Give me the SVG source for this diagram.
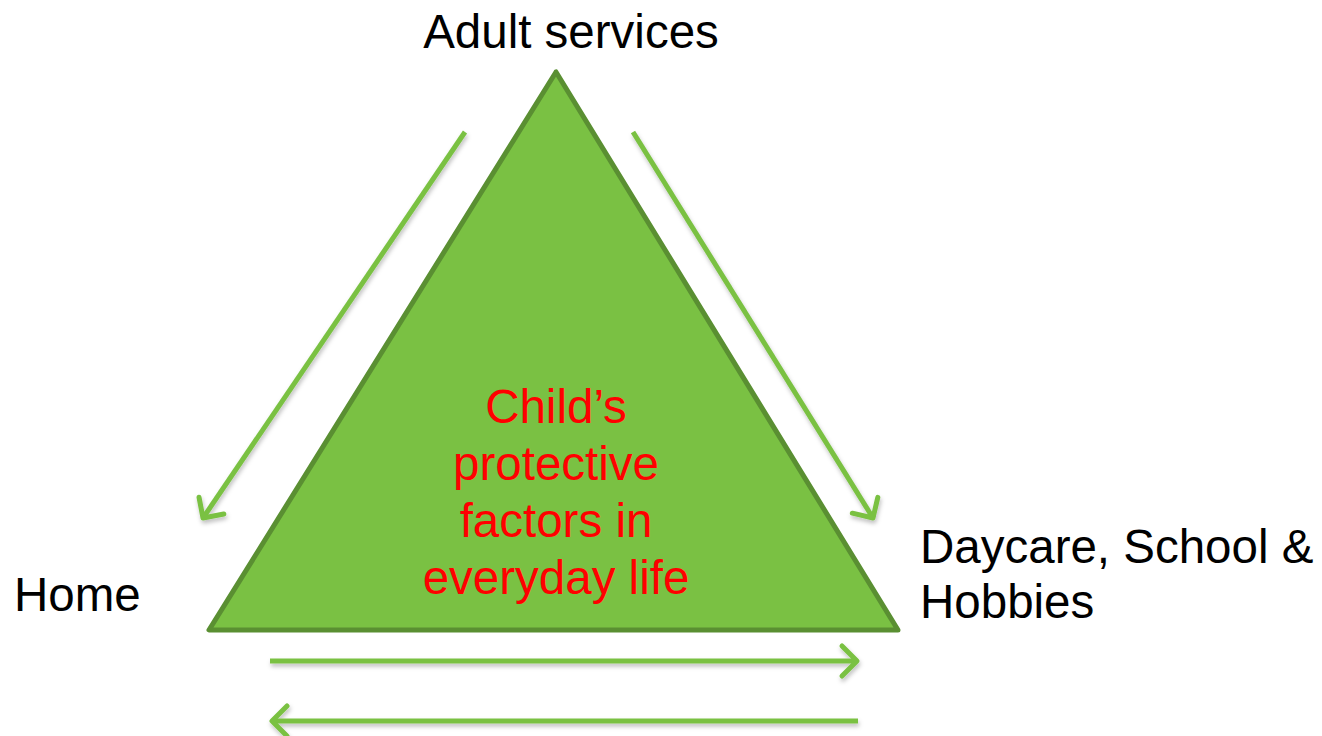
<svg xmlns="http://www.w3.org/2000/svg" width="1322" height="736" viewBox="0 0 1322 736">
<style>
.lbl{font-family:"Liberation Sans",Arial,sans-serif;font-size:47.5px;fill:#000}
.ctr{font-family:"Liberation Sans",Arial,sans-serif;font-size:47.5px;fill:#ff0000;text-anchor:middle}
.arr{stroke:#7ac143;stroke-width:5;fill:none;marker-end:url(#chev);filter:url(#sh)}
</style>
<defs>
<marker id="chev" markerUnits="userSpaceOnUse" markerWidth="40" markerHeight="40" viewBox="-20 -20 40 40" refX="0" refY="0" orient="auto">
<path d="M-15,-15 L0,0 L-15,15" fill="none" stroke="#7ac143" stroke-width="5" stroke-linecap="round" stroke-linejoin="round"/>
</marker>
<filter id="sh" filterUnits="userSpaceOnUse" x="0" y="0" width="1322" height="736">
<feDropShadow dx="1" dy="3" stdDeviation="2" flood-color="#000" flood-opacity="0.25"/>
</filter>
</defs>
<g id="triangle">
<polygon points="556,72 209,630 898,630" fill="#7ac143" stroke="#5a8f32" stroke-width="5" stroke-linejoin="round"/>
<text class="ctr" x="556" y="423">Child’s</text>
<text class="ctr" x="556" y="480">protective</text>
<text class="ctr" x="556" y="537">factors in</text>
<text class="ctr" x="556" y="594">everyday life</text>
</g>
<g id="adult"><text class="lbl" x="571" y="48" text-anchor="middle">Adult services</text></g>
<g id="home"><text class="lbl" x="14" y="611">Home</text></g>
<g id="daycare"><text class="lbl" x="920" y="563">Daycare, School &amp;</text><text class="lbl" x="920" y="618">Hobbies</text></g>
<g id="connectors">
<line class="arr" x1="465" y1="132" x2="203" y2="518"/>
<line class="arr" x1="633" y1="132" x2="873" y2="518"/>
<line class="arr" x1="270" y1="661" x2="857" y2="661"/>
<line class="arr" x1="858" y1="721" x2="272" y2="721"/>
</g>
</svg>
